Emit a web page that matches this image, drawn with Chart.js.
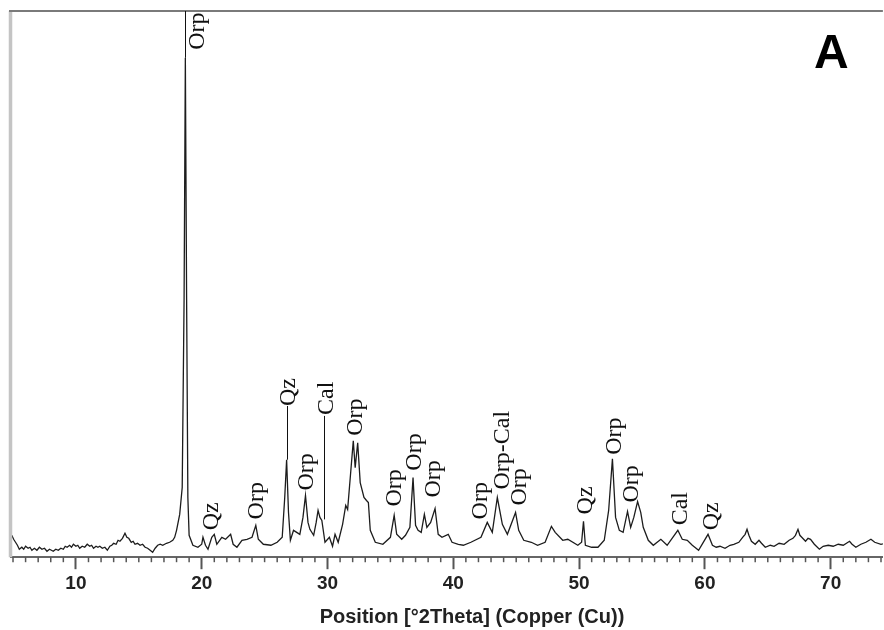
<!DOCTYPE html>
<html>
<head>
<meta charset="utf-8">
<title>XRD pattern A</title>
<script src="https://cdn.jsdelivr.net/npm/chart.js@4.4.1/dist/chart.umd.min.js"></script>
<style>
    html, body { margin: 0; padding: 0; background: #fff; }
    #wrap { width: 884px; height: 630px; position: relative; }
</style>
</head>
<body>
<div id="wrap"><canvas id="xrd"></canvas></div>
<script>
// ── Data ────────────────────────────────────────────────────────
// low-angle background, 4.9–18°
const thetaLow = [4.9,5.05,5.2,5.35,5.5,5.7,5.85,6.0,6.2,6.35,6.5,6.7,6.9,7.1,7.3,7.5,7.7,7.9,8.05,8.2,8.4,8.6,8.8,9.0,9.15,9.3,9.5,9.65,9.8,10.0,10.15,10.3,10.5,10.7,10.9,11.1,11.25,11.4,11.6,11.75,11.9,12.1,12.3,12.5,12.7,12.85,13.0,13.2,13.35,13.5,13.7,13.9,14.05,14.2,14.4,14.55,14.7,14.9,15.1,15.3,15.5,15.7,15.9,16.1,16.3,16.5,16.7,16.9,17.2,17.45,17.7,17.85,18.0];
const countLow = [44,36,30,24,16,20,16,22,18,20,14,18,14,20,16,18,12,16,14,12,16,14,18,16,22,20,24,20,26,22,24,18,22,20,26,22,24,18,22,20,22,18,20,14,22,24,28,26,34,32,38,48,40,38,30,32,26,28,24,26,20,18,14,10,18,24,26,24,28,30,34,40,54];

// peak region, 18.25–60.25°
const thetaMid = [18.25,18.45,18.6,18.7,18.8,18.9,19.0,19.3,19.7,20.0,20.1,20.3,20.5,20.8,21.0,21.2,21.6,21.9,22.3,22.5,22.8,23.2,23.6,24.0,24.3,24.5,24.9,25.5,26.0,26.4,26.6,26.75,26.9,27.05,27.3,27.8,28.05,28.25,28.45,28.6,28.9,29.1,29.25,29.4,29.55,29.8,30.15,30.4,30.6,30.85,31.2,31.45,31.6,32.05,32.2,32.4,32.6,32.9,33.1,33.25,33.4,33.8,34.4,35.0,35.3,35.5,35.9,36.2,36.55,36.8,37.0,37.2,37.45,37.7,37.9,38.2,38.55,38.8,39.1,39.6,39.9,40.4,40.8,41.4,42.2,42.7,43.1,43.5,43.9,44.3,44.95,45.2,45.6,46.2,46.7,47.3,47.8,48.1,48.7,49.1,49.9,50.2,50.35,50.5,51.0,51.5,52.0,52.35,52.65,52.9,53.2,53.5,53.85,54.1,54.35,54.65,54.9,55.1,55.5,55.9,56.5,57.0,57.85,58.2,58.6,59.0,59.5,60.25];
const countMid = [86,140,520,1004,520,120,44,24,20,26,40,24,16,40,46,26,40,36,46,26,20,34,36,40,64,36,26,24,30,40,120,196,90,34,54,46,80,124,70,56,44,70,94,80,74,30,40,22,46,30,66,104,96,234,180,230,150,120,114,110,54,30,26,40,84,46,36,44,60,160,64,54,50,86,60,70,98,46,40,46,30,26,24,30,40,70,50,120,66,46,90,54,34,30,24,30,62,50,34,36,24,30,72,24,20,20,34,94,198,80,54,50,92,60,80,112,90,60,34,24,36,24,54,36,34,24,14,46];

// high-angle tail, 60.6–74.4°
const thetaHigh = [60.6,60.9,61.2,61.6,62.0,62.3,62.7,63.0,63.2,63.35,63.5,63.7,64.0,64.3,64.5,64.8,65.2,65.5,65.9,66.3,66.7,67.0,67.2,67.4,67.55,67.7,68.0,68.2,68.4,68.7,69.1,69.4,69.8,70.2,70.6,71.0,71.5,71.7,72.0,72.4,72.8,73.2,73.5,74.0,74.4];
const countHigh = [24,20,22,18,24,26,30,40,46,56,44,32,26,34,28,20,24,22,28,26,34,38,44,56,44,40,32,38,36,26,16,22,24,22,26,24,32,26,20,26,30,36,30,26,28];

const twoTheta = [...thetaLow, ...thetaMid, ...thetaHigh];
const counts   = [...countLow, ...countMid, ...countHigh];

// phase labels: text, 2theta of the text column, intensity at the foot of the text
const phaseText = ['Orp','Qz','Orp','Qz','Orp','Cal','Orp','Orp','Orp','Orp','Orp','Orp-Cal','Orp','Qz','Orp','Orp','Cal','Qz'];
const phasePos  = [19.55,20.6,24.25,26.76,28.15,29.75,32.05,35.2,36.75,38.3,42.05,43.76,45.15,50.4,52.68,54.03,57.89,60.4];
const phaseFoot = [1020,54,76,304,134,286,244,102,174,120,76,136,104,86,206,110,64,54];

// leader lines from peak up to its label
const leaderPos  = [18.7, 26.75, 29.7];
const leaderFrom = [1004, 196, 76];
const leaderTo   = [1098, 304, 284];

const xMin = 4.84, xMax = 74.15;
const yMax = 1098;

// ── Plugin: frame, minor ticks, phase labels, captions ──────────
const decorations = {
    id: 'decorations',
    afterDatasetsDraw(chart) {
        const { ctx, chartArea: a, scales: { x, y } } = chart;
        ctx.save();

        // frame (left + top)
        ctx.strokeStyle = '#c4c4c4';
        ctx.lineWidth = 3.5;
        ctx.beginPath(); ctx.moveTo(10.5, a.top); ctx.lineTo(10.5, a.bottom); ctx.stroke();
        ctx.strokeStyle = '#7a7a7a';
        ctx.lineWidth = 2;
        ctx.beginPath(); ctx.moveTo(9, a.top); ctx.lineTo(a.right, a.top); ctx.stroke();

        // leader lines
        ctx.strokeStyle = '#111';
        ctx.lineWidth = 1;
        leaderPos.forEach((p, i) => {
            const px = Math.round(x.getPixelForValue(p)) + 0.5;
            ctx.beginPath();
            ctx.moveTo(px, y.getPixelForValue(leaderFrom[i]));
            ctx.lineTo(px, y.getPixelForValue(leaderTo[i]));
            ctx.stroke();
        });

        // rotated phase labels
        ctx.fillStyle = '#111';
        ctx.font = '24px "Liberation Serif", "DejaVu Serif", serif';
        ctx.textAlign = 'left';
        ctx.textBaseline = 'middle';
        phaseText.forEach((t, i) => {
            ctx.save();
            ctx.translate(x.getPixelForValue(phasePos[i]), y.getPixelForValue(phaseFoot[i]));
            ctx.rotate(-Math.PI / 2);
            ctx.fillText(t, 0, 2);
            ctx.restore();
        });
        ctx.restore();
    },
    afterDraw(chart) {
        const { ctx, chartArea: a, scales: { x } } = chart;
        ctx.save();

        // minor ticks every degree
        ctx.strokeStyle = '#555';
        ctx.lineWidth = 1.5;
        for (let v = Math.ceil(xMin); v <= xMax; v++) {
            if (v % 10 === 0) continue;
            const px = x.getPixelForValue(v);
            ctx.beginPath(); ctx.moveTo(px, a.bottom); ctx.lineTo(px, a.bottom + 5); ctx.stroke();
        }

        // axis caption (offset to the right like the source)
        ctx.fillStyle = '#222';
        ctx.font = 'bold 20px "Liberation Sans", Arial, sans-serif';
        ctx.textAlign = 'center';
        ctx.textBaseline = 'alphabetic';
        ctx.fillText('Position [°2Theta] (Copper (Cu))', 472, 623);

        // panel letter
        ctx.fillStyle = '#000';
        ctx.font = 'bold 48px "Liberation Sans", Arial, sans-serif';
        ctx.textAlign = 'left';
        ctx.fillText('A', 814, 68);
        ctx.restore();
    }
};

// ── Chart ───────────────────────────────────────────────────────
new Chart(document.getElementById('xrd'), {
    type: 'line',
    data: {
        datasets: [{
            data: twoTheta.map((t, i) => ({ x: t, y: counts[i] })),
            borderColor: '#1c1c1c',
            borderWidth: 1.3,
            pointRadius: 0,
            tension: 0,
            fill: false
        }]
    },
    options: {
        responsive: true,
        maintainAspectRatio: false,
        animation: false,
        layout: { padding: { left: 11, top: 11, right: 0, bottom: 32 } },
        plugins: { legend: { display: false }, tooltip: { enabled: false } },
        scales: {
            x: {
                type: 'linear',
                min: xMin,
                max: xMax,
                border: { display: true, color: '#666', width: 2 },
                grid: {
                    drawOnChartArea: false,
                    drawTicks: true,
                    tickLength: 12,
                    tickWidth: 2,
                    tickColor: (c) => (c.tick && c.tick.value % 10 === 0) ? '#555' : 'rgba(0,0,0,0)'
                },
                ticks: {
                    stepSize: 1,
                    includeBounds: false,
                    autoSkip: false,
                    maxRotation: 0,
                    padding: 3,
                    color: '#222',
                    font: { family: '"Liberation Sans", Arial, sans-serif', size: 19, weight: 'bold' },
                    callback: (v) => v % 10 === 0 ? String(v) : ''
                }
            },
            y: { display: false, min: 0, max: yMax }
        }
    },
    plugins: [decorations]
});
</script>
</body>
</html>
